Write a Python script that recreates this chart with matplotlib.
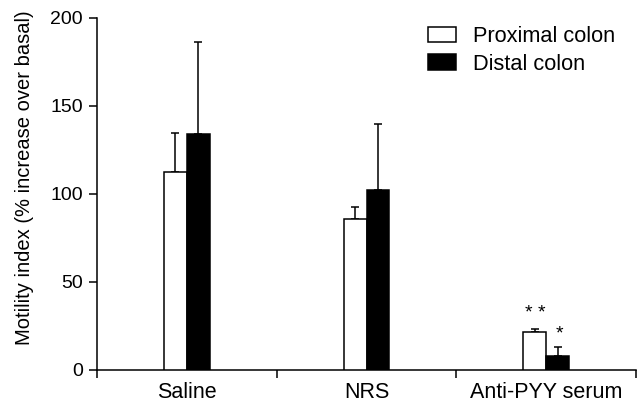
import numpy as np
import matplotlib
matplotlib.use("Agg")
from matplotlib import pyplot as plt
from matplotlib.patches import Patch

plt.rcParams['font.family'] = ['Liberation Sans', 'DejaVu Sans']

groups = ['Saline', 'NRS', 'Anti-PYY serum']
proximal = [112.3, 85.8, 21.8]
proximal_err = [22.5, 7.0, 1.7]
distal = [134.1, 102.1, 8.0]
distal_err = [52.1, 37.5, 5.1]
proximal_sig = ['', '', '* *']
distal_sig = ['', '', '*']

fig = plt.figure(figsize=(6.44, 4.05), dpi=100)
ax = fig.add_axes([97 / 644, 35 / 405, 539 / 644, 352 / 405])

x = np.arange(len(groups)) + 0.5
w = 0.128
lw = 1.1

ax.bar(x - w / 2, proximal, w, color='white', edgecolor='black', linewidth=lw, zorder=3)
ax.bar(x + w / 2, distal, w, color='black', edgecolor='black', linewidth=lw, zorder=3)
ax.errorbar(x - w / 2, proximal, yerr=[np.zeros(3), proximal_err], fmt='none',
            ecolor='black', elinewidth=lw, capsize=3, capthick=lw, zorder=2)
ax.errorbar(x + w / 2, distal, yerr=[np.zeros(3), distal_err], fmt='none',
            ecolor='black', elinewidth=lw, capsize=3, capthick=lw, zorder=2)

for i in range(len(groups)):
    if proximal_sig[i]:
        ax.text(x[i] - w / 2 + 0.005, proximal[i] + proximal_err[i] + 8.5, proximal_sig[i],
                ha='center', va='center', fontsize=14)
    if distal_sig[i]:
        ax.text(x[i] + w / 2 + 0.01, distal[i] + distal_err[i] + 7.5, distal_sig[i],
                ha='center', va='center', fontsize=14)

ax.set_xlim(0, 3)
ax.set_ylim(0, 200)
ax.set_yticks([0, 50, 100, 150, 200])
ax.set_xticks([0, 1, 2, 3])
ax.set_xticklabels([])
ax.set_xticks(x, minor=True)
ax.set_xticklabels(groups, minor=True, fontsize=15.5)
ax.tick_params(axis='x', which='minor', length=0, pad=9)
ax.tick_params(axis='x', which='major', length=6, width=lw, direction='out')
ax.tick_params(axis='y', length=6, width=lw, labelsize=14, pad=4)
for s in ['top', 'right']:
    ax.spines[s].set_visible(False)
for s in ['left', 'bottom']:
    ax.spines[s].set_linewidth(lw)
ax.set_ylabel('Motility index (% increase over basal)', fontsize=14.5)
ax.yaxis.set_label_coords(-0.117, 0.547)

handles = [Patch(facecolor='white', edgecolor='black', linewidth=lw, label='Proximal colon'),
           Patch(facecolor='black', edgecolor='black', linewidth=lw, label='Distal colon')]
fig.legend(handles=handles, loc='upper left', bbox_to_anchor=(428 / 644, 1 - 26 / 405),
           frameon=False, fontsize=15.7, handlelength=1.3, handleheight=0.7,
           handletextpad=0.75, labelspacing=0.3, borderpad=0, borderaxespad=0)

fig.savefig('out.png', dpi=100)
